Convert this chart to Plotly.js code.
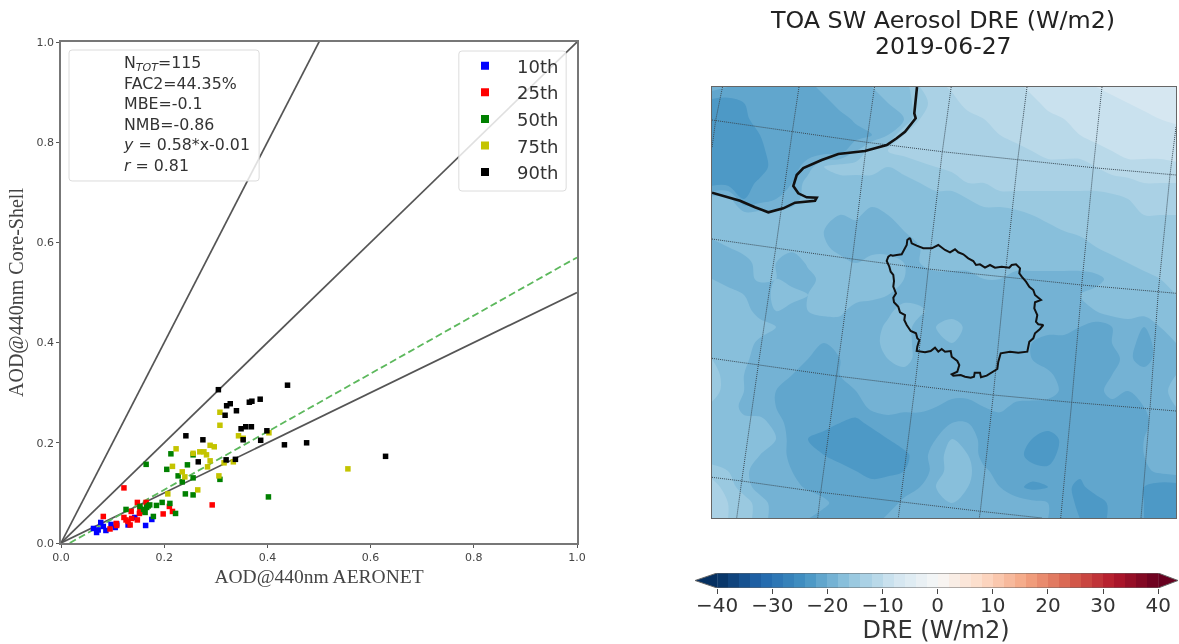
<!DOCTYPE html>
<html>
<head>
<meta charset="utf-8">
<script src="https://cdn.plot.ly/plotly-3.0.1.min.js"></script>
<style>html,body{margin:0;padding:0;background:#fff}#chart{width:1179px;height:644px;filter:blur(0.45px)}</style>
</head>
<body>
<div id="chart"></div>
<script>
const seriesNames = ['10th','25th','50th','75th','90th'];
const seriesColors = ['#0000ff','#ff0000','#008000','#c4c400','#000000'];

const x10 = [.063,.069,.072,.077,.082,.087,.097,.105,.108,.130,.143,.164,.176];
const y10 = [.029,.021,.026,.041,.033,.025,.037,.031,.038,.036,.051,.035,.047];
const x25 = [.122,.082,.095,.107,.108,.122,.126,.134,.130,.136,.148,.152,.153,.148,.165,.198,.210,.216,.293,.137,.154];
const y25 = [.110,.053,.028,.039,.035,.051,.046,.036,.043,.063,.046,.059,.069,.081,.081,.058,.073,.063,.076,.049,.063];
const x50 = [.165,.213,.205,.256,.245,.227,.235,.256,.308,.402,.241,.256,.126,.153,.160,.169,.163,.172,.185,.196,.211,.222,.179,.166];
const y50 = [.157,.178,.147,.176,.156,.134,.122,.130,.127,.092,.098,.096,.067,.073,.067,.074,.061,.076,.075,.081,.079,.059,.053,.071];
const x75 = [.223,.216,.235,.240,.207,.265,.256,.269,.277,.282,.289,.297,.289,.284,.306,.316,.334,.308,.308,.344,.353,.403,.556];
const y75 = [.188,.153,.142,.132,.098,.106,.179,.182,.182,.176,.195,.192,.164,.152,.134,.160,.162,.261,.235,.214,.209,.220,.148];
const x90 = [.305,.321,.328,.318,.340,.365,.370,.386,.439,.349,.358,.369,.353,.387,.399,.433,.476,.242,.275,.266,.320,.338,.629];
const y90 = [.306,.274,.278,.255,.264,.281,.283,.287,.315,.228,.232,.232,.206,.205,.224,.196,.200,.214,.206,.162,.166,.167,.173];

const refX = [0,1];
const ref1to2 = [0,2];
const ref1to1 = [0,1];
const ref2to1 = [0,0.5];
const fitX = [0.017,1];
const fitY = [0,0.57];

const statLines = ['N<sub><i>TOT</i></sub>=115','FAC2=44.35%','MBE=-0.1','NMB=-0.86','<i>y</i> = 0.58*x-0.01','<i>r</i> = 0.81'];

const gridX = [0,16,32,48,64,80,96,112,128,144,160,176,192,208,224,240,256,272,288,304,320,336,352,368,384,400,416,432,448,464];
const gridY = [431,415,399,383,367,351,335,319,303,287,271,255,239,223,207,191,175,159,143,127,111,95,79,63,47,31,15,-1];
const dre = [
[-19,-20,-21,-21,-21,-21,-21,-19,-19,-19,-18,-17,-17,-14,-13,-11.5,-11,-11,-11,-11,-9,-9,-9,-9,-8,-7,-7,-7,-7,-7],
[-23,-23,-22,-21,-21,-21,-21,-21,-19,-19,-19,-18,-17,-15,-13,-13,-11,-11,-11,-11,-11,-9,-9,-9,-9,-9,-8,-7,-7,-7],
[-23,-23,-22.5,-21,-21,-21,-21,-21,-21,-19.5,-19,-19,-18,-14,-13,-13,-13,-12,-11,-11,-11,-11,-10,-9,-9,-9,-9,-9,-8,-7.5],
[-23,-23,-23,-22,-21,-21,-21,-21,-21,-21,-20,-18,-14,-13,-13,-13,-13,-13,-12,-11,-11,-11,-11,-10,-9,-9,-9,-9,-9,-9],
[-23,-23,-23,-22.5,-21,-21,-21,-21,-21,-18,-15,-14,-13.5,-13,-13,-13,-13,-13,-13,-13,-12,-11,-11,-11,-11,-10,-9,-9,-9,-9],
[-23,-23,-23,-23,-21,-21,-19,-16,-15,-15,-15,-16,-15,-14.5,-14,-13.5,-13,-13,-13,-13,-13,-13,-13,-13,-12,-11,-11,-11,-11,-10.5],
[-23,-23,-23,-21.5,-21,-20,-17,-17,-17,-17,-17,-17,-17,-16,-15,-15,-14,-14,-13,-13,-13,-13,-13,-13,-13,-13,-12.5,-12,-12,-12],
[-17,-17,-22,-21,-20,-19,-17,-17,-17,-17,-17,-17,-17,-17,-17,-17,-16,-15,-15,-15,-15,-15,-15,-15,-15,-14.5,-14,-13,-13,-13],
[-17,-17,-17,-17,-17,-17,-17,-17,-18,-17.5,-19,-18,-17,-17,-17,-17,-17,-17,-17,-16.5,-16,-15,-15,-15,-15,-15,-15,-14,-14,-14],
[-17,-17,-17,-17,-17,-18,-17,-18,-19,-19,-19,-19,-18,-17,-17,-17,-17,-17,-17,-17,-17,-17,-16,-15.5,-15,-15,-15,-15,-14,-14],
[-19,-18,-17,-17,-17,-17,-17,-17.5,-19,-19,-19,-19,-19,-18,-17,-17,-17,-17,-17,-17,-17,-17,-17,-17,-16,-15.5,-15,-15,-15,-15],
[-19,-18.5,-19,-17,-18,-20,-17.5,-17,-17,-18,-17,-17,-18,-18,-17,-17,-17,-17,-17,-17,-17,-17,-17,-17,-17,-16.5,-16,-15,-15,-15],
[-18,-19,-19,-17.5,-18,-19,-19,-17,-17.5,-17,-17.5,-17,-18,-19,-19,-19,-19,-18,-18,-19,-19,-19,-19,-19,-18.5,-17.5,-17,-17,-16,-15],
[-17,-17,-18,-20,-17,-17,-18,-17,-17,-17,-17.5,-18,-19,-19,-18,-19,-19,-19,-19,-19,-19,-19,-19,-18,-17.5,-17,-17,-17,-17,-16],
[-17,-17,-17,-19,-18,-19,-18,-17.5,-17.5,-19,-19,-18.5,-17,-17.5,-19,-19,-19,-19,-19,-19,-19,-19,-19,-19,-18,-17,-17,-17,-17,-16],
[-17,-17,-17,-17,-18,-19,-19,-19,-19,-19,-19,-17.5,-17,-19,-18,-17,-18.5,-19,-19,-19,-19,-19,-19,-20,-21,-20,-19,-20,-18,-16],
[-17,-17,-17,-18.5,-19.5,-19,-19,-20,-19.5,-19,-19,-17,-17,-19,-19,-18,-19,-19,-19.5,-18,-20,-21,-21,-21,-21,-20,-19,-21,-19,-18],
[-16,-17,-17.5,-19,-19,-19.5,-20,-21,-20,-19,-19,-18,-17,-19,-18,-18,-19,-19,-19,-19,-20,-21,-21,-21,-21,-20.5,-19.5,-21,-19,-18],
[-15,-17,-18,-19,-19,-20,-21,-21,-20,-19,-19,-19,-19,-19,-19,-19,-19,-19,-19,-19,-19,-19.5,-21,-21,-22,-20,-19.5,-19,-18.5,-18],
[-15,-17,-18,-19,-20,-21,-21,-21,-21,-20,-19,-19,-20,-19,-19,-19,-19,-19,-20,-19,-18.5,-19,-20.5,-21,-21,-19,-20,-19,-18.5,-17.5],
[-16.5,-17,-18.5,-19.5,-20,-21,-21,-21,-21,-21,-19.5,-19,-19.5,-19.5,-20,-21,-21,-20,-19.5,-20.5,-21,-21,-21,-21,-21,-21,-21,-20,-19,-18],
[-17,-17,-17.5,-17,-19,-21,-21,-21.5,-22,-22.5,-21.5,-21,-21,-21,-21,-20,-20,-21,-21,-21,-21,-21,-21,-21,-21,-21,-21,-20.5,-19,-19],
[-17,-17,-18,-17,-18,-21,-22,-22.5,-23,-23,-23,-22,-21,-21,-20,-18,-18.5,-21,-21,-21,-22,-23,-21.5,-21,-22,-21,-20.5,-20,-19,-19],
[-17.5,-18,-17.5,-18,-19,-20.5,-21,-22,-23,-23,-23,-23,-22.5,-21,-19,-17,-18,-21,-21,-21,-23,-23,-21,-21,-21,-21,-21,-20,-19,-18],
[-15,-16,-17.5,-19,-19,-20,-21,-21,-21,-22,-23,-22.5,-22,-21.5,-19,-17,-17.5,-19.5,-21,-21,-21,-21.5,-22,-21.5,-21,-21,-21,-20.5,-19.5,-19],
[-13,-15,-17,-19,-19,-19,-20.5,-21,-21,-21,-21,-21,-21,-20,-18,-17,-18,-19,-20,-21.5,-22.5,-22,-21.5,-22.5,-21,-21,-21,-22,-23,-23],
[-13,-14,-15,-17,-19,-19,-18,-19.5,-21,-21,-21,-21,-19.5,-19,-18,-18,-18.5,-18,-19,-19,-19.5,-20,-21,-22.5,-23,-21.5,-21,-22,-23,-23],
[-13,-14,-15,-17,-19,-19.5,-20,-21,-21,-21,-21,-19.5,-19,-19,-18,-18,-19,-19,-19,-19,-19,-20,-21,-22,-23,-21.5,-21,-22,-23,-23]
];

const coastX = [205,202.3,203.7,193,184.7,174.7,153,126.3,109.7,91.3,84.7,81.3,86.3,94.7,104.7,103,83,71.3,56.3,43,28,13,0];
const coastY = [431,404.7,399.7,386.3,379.7,373,367,364,358,350,343,332,324.7,320.7,320.3,317.3,315.3,309.7,305.7,310.7,317.3,321.3,325.3];
const regionX = [198,195.3,194.7,192.3,189.7,184.7,180.7,178.7,176.3,174.7,177.3,178.7,181.3,182,181.3,184,181.3,182,186.3,188,193,192.3,194.7,198.7,204,205.3,207.3,205.3,204.7,213,218.7,223,226.3,229.7,233,238.7,239.7,245.3,247.3,245.3,239.7,241.3,248.7,253,258.7,262,262.7,268,269,274.7,279.7,285.3,286.3,288.7,298,306.3,315.3,317.3,321.3,323,328,331.3,326.3,324,325.3,322.3,323,329,323,321.3,317.3,314,309.7,307.3,308,304,299.7,297.3,289.7,283,278,273,268,264,261.3,256.3,251.3,246.3,243,238,233,226.3,219.7,211.3,204.7,199.7,198];
const regionY = [280.3,278,273,268,263.7,263,262.3,263,261.3,257,251.3,246.3,243,237,231.3,224.7,220.3,215.7,211.3,205.7,203,198,193,187,184.7,179.7,178,171.3,167,165.7,167,170.3,166.3,169,166.3,167,161.3,157,153,146.3,143.7,142.3,143,141.3,140.3,141.3,145.3,145.3,140.7,142.3,145.7,149,156.3,164.7,166.3,165.3,166.3,176.3,179.7,184.7,189,193,193.7,196.3,203,209.7,215.7,218,223,228,231.3,236.3,241.3,244.7,249.7,253.7,253,250.3,251.3,250.3,253,250.3,253.7,253,257,259.7,263.7,265.7,268.7,265.7,268,273,269.7,269.7,272.3,274.7,280.3];

const parallels = [
 {x:[0,79.7,154.7,230.3,305.7,381.3,464], y:[398,386.3,375.7,366.3,358,350.3,343]},
 {x:[0,63.7,140.3,216.3,293,369.7,446.3,464], y:[279,269.7,259,249,241.3,233,226.3,224.7]},
 {x:[0,46.3,124.7,203,281.3,359.7,438,464], y:[159.7,153,142,132.3,123,115.7,109.3,107]},
 {x:[0,29.7,108.7,188,268.3,330], y:[40.7,37,25.7,16,6.7,0]}
];
const meridians = [
 {x:[10.5,3.7,0], y:[431,398,370]},
 {x:[87,80.3,63.7,54.7,46.3,29.7,24.7], y:[431,386.3,269.7,209.7,153,37,0]},
 {x:[162.5,154.7,140.3,134.7,124.7,108.7,105.7], y:[431,375.7,259,218,142,25.7,0]},
 {x:[239.2,230.3,216.3,213,203,188,186.3], y:[431,366.3,249,218,132.3,16,0]},
 {x:[315,305.7,293,290.7,281.3,268.3,267.3], y:[431,358,241.3,218,123,6.7,0]},
 {x:[390,381.3,369.7,368.7,359.7,348.7], y:[431,350.3,233,218,115.7,0]},
 {x:[464,458,446.3,438,429], y:[391,343,226.3,109.3,0]}
];

const rdbuStops = [[0,'#053061'],[0.1,'#2166ac'],[0.2,'#4393c3'],[0.3,'#92c5de'],[0.4,'#d1e5f0'],[0.5,'#f7f7f7'],[0.6,'#fddbc7'],[0.7,'#f4a582'],[0.8,'#d6604d'],[0.9,'#b2182b'],[1,'#67001f']];
const cbEdges = [-40,-38,-36,-34,-32,-30,-28,-26,-24,-22,-20,-18,-16,-14,-12,-10,-8,-6,-4,-2,0,2,4,6,8,10,12,14,16,18,20,22,24,26,28,30,32,34,36,38,40];
const cbMids = [-39,-37,-35,-33,-31,-29,-27,-25,-23,-21,-19,-17,-15,-13,-11,-9,-7,-5,-3,-1,1,3,5,7,9,11,13,15,17,19,21,23,25,27,29,31,33,35,37,39];
const cbTicks = [-40,-30,-20,-10,0,10,20,30,40];
const cbOutlineX = [-40,-44,-40,40,43.6,40,-40];
const cbOutlineY = [0,0.5,1,1,0.5,0,0];

const W = 1179, H = 644;
const SANS = '"DejaVu Sans", sans-serif';
const SERIF = '"Liberation Serif", serif';
const refLine = {color:'#555555', width:1.7};

const traces = [];
[[refX,ref1to2],[refX,ref1to1],[refX,ref2to1]].forEach(p => traces.push({
  x:p[0], y:p[1], type:'scatter', mode:'lines', line:refLine, showlegend:false, hoverinfo:'skip', xaxis:'x', yaxis:'y'}));
traces.push({x:fitX, y:fitY, type:'scatter', mode:'lines', line:{color:'#5cb85c', width:1.8, dash:'7px,3.5px'}, showlegend:false, xaxis:'x', yaxis:'y'});
[[x10,y10],[x25,y25],[x50,y50],[x75,y75],[x90,y90]].forEach((s,i) => {
  traces.push({x:s[0], y:s[1], type:'scatter', mode:'markers', marker:{symbol:'square', size:5.5, color:seriesColors[i]}, showlegend:false, xaxis:'x', yaxis:'y', name:seriesNames[i]});
});
seriesNames.forEach((n,i) => traces.push({x:[null], y:[null], type:'scatter', mode:'markers', name:n, legendgroup:n,
  marker:{symbol:'square', size:8, color:seriesColors[i]}, xaxis:'x', yaxis:'y'}));

traces.push({type:'contour', x:gridX, y:gridY, z:dre, xaxis:'x2', yaxis:'y2', zauto:false, zmin:-40, zmax:40,
  colorscale:rdbuStops, showscale:false, autocontour:false, contours:{start:-40,end:40,size:2,coloring:'fill',showlines:false},
  line:{width:0, smoothing:1}, hoverinfo:'skip'});
parallels.concat(meridians).forEach(g => traces.push({x:g.x, y:g.y, type:'scatter', mode:'lines', xaxis:'x2', yaxis:'y2',
  line:{color:'#3a4a55', width:1, dash:'1px,1px'}, showlegend:false, hoverinfo:'skip'}));
traces.push({x:coastX, y:coastY, type:'scatter', mode:'lines', xaxis:'x2', yaxis:'y2', line:{color:'#111', width:2.6}, showlegend:false});
traces.push({x:regionX, y:regionY, type:'scatter', mode:'lines', xaxis:'x2', yaxis:'y2', line:{color:'#111', width:2}, showlegend:false});

traces.push({type:'heatmap', x:cbEdges, y:[0,1], z:[cbMids], xaxis:'x3', yaxis:'y3', zauto:false, zmin:-40, zmax:40,
  colorscale:rdbuStops, showscale:false, hoverinfo:'skip'});
traces.push({x:[-40,-44,-40], y:[0,0.5,1], type:'scatter', mode:'lines', fill:'toself', fillcolor:'#053061', line:{width:0}, xaxis:'x3', yaxis:'y3', showlegend:false});
traces.push({x:[40,43.6,40], y:[0,0.5,1], type:'scatter', mode:'lines', fill:'toself', fillcolor:'#67001f', line:{width:0}, xaxis:'x3', yaxis:'y3', showlegend:false});
traces.push({x:cbOutlineX, y:cbOutlineY, type:'scatter', mode:'lines', line:{color:'#666', width:1}, xaxis:'x3', yaxis:'y3', showlegend:false});

function rounded(x0,x1,y0,y1,rx,ry){
  return `M${x0+rx},${y0} L${x1-rx},${y0} Q${x1},${y0} ${x1},${y0+ry} L${x1},${y1-ry} Q${x1},${y1} ${x1-rx},${y1} L${x0+rx},${y1} Q${x0},${y1} ${x0},${y1-ry} L${x0},${y0+ry} Q${x0},${y0} ${x0+rx},${y0} Z`;
}
const boxStyle = {type:'path', xref:'x', yref:'y', layer:'above', fillcolor:'rgba(255,255,255,0.82)', line:{color:'#dcdcdc', width:1}};

const axisCommon = {showgrid:false, zeroline:false, showline:true, mirror:true, linecolor:'#777', linewidth:1.8, ticks:'outside', ticklen:3, tickcolor:'#555', tickwidth:1};

const layout = {
  width:W, height:H, margin:{l:0,r:0,t:0,b:0}, paper_bgcolor:'#fff', plot_bgcolor:'#fff',
  font:{family:SANS, color:'#333'},
  title:{text:'TOA SW Aerosol DRE (W/m2)', font:{family:SANS, size:23.8, color:'#222'}, x:943/W, xanchor:'center', xref:'paper', y:1-11/H, yanchor:'top'},
  xaxis:Object.assign({}, axisCommon, {domain:[61/W,577/W], range:[0,1], anchor:'y', tickvals:[0,.2,.4,.6,.8,1], tickformat:'.1f', tickfont:{size:11,color:'#444'},
    title:{text:'AOD@440nm AERONET', font:{family:SERIF,size:19.5,color:'#444'}, standoff:6}}),
  yaxis:Object.assign({}, axisCommon, {domain:[(H-543)/H,(H-42)/H], range:[0,1], anchor:'x', tickvals:[0,.2,.4,.6,.8,1], tickformat:'.1f', tickfont:{size:11,color:'#444'},
    title:{text:'AOD@440nm Core-Shell', font:{family:SERIF,size:20,color:'#444'}, standoff:7}}),
  xaxis2:{domain:[712/W,1176/W], range:[0,464], anchor:'y2', showgrid:false, zeroline:false, showticklabels:false, ticks:'', showline:true, mirror:true, linecolor:'#666', linewidth:1.2},
  yaxis2:{domain:[(H-518)/H,(H-87)/H], range:[0,431], anchor:'x2', showgrid:false, zeroline:false, showticklabels:false, ticks:'', showline:true, mirror:true, linecolor:'#666', linewidth:1.2},
  xaxis3:{domain:[694/W,1178/W], range:[-44.2,43.6], anchor:'y3', showgrid:false, zeroline:false, showline:false, ticks:'outside', ticklen:5, tickcolor:'#444', tickvals:cbTicks,
    tickfont:{size:20,color:'#333'}, ticklabelstandoff:-6, title:{text:'DRE (W/m2)', font:{size:24,color:'#333'}, standoff:4}},
  yaxis3:{domain:[(H-588)/H,(H-573)/H], range:[0,1], anchor:'x3', visible:false},
  legend:{x:453/W, y:(H-47.5)/H, xanchor:'left', yanchor:'top', bgcolor:'rgba(0,0,0,0)', borderwidth:0, font:{family:SANS,size:18,color:'#333'}, itemwidth:54, tracegroupgap:0.2, traceorder:'grouped'},
  shapes:[
    Object.assign({}, boxStyle, {path:rounded(0.0155,0.384,0.7226,0.984,0.006,0.006)}),
    Object.assign({}, boxStyle, {path:rounded(0.771,0.979,0.7026,0.982,0.006,0.006)})
  ],
  annotations:[
    {xref:'x', yref:'y', x:0.116, y:0.982, xanchor:'left', yanchor:'top', align:'left', showarrow:false,
     text:statLines.join('<br>'), font:{family:SANS,size:15.8,color:'#333'}},
    {xref:'paper', yref:'paper', x:943/W, y:(H-46)/H, xanchor:'center', yanchor:'middle', showarrow:false,
     text:'2019-06-27', font:{family:SANS,size:23.5,color:'#222'}}
  ]
};

Plotly.newPlot('chart', traces, layout, {displayModeBar:false, staticPlot:true});
</script>
</body>
</html>
